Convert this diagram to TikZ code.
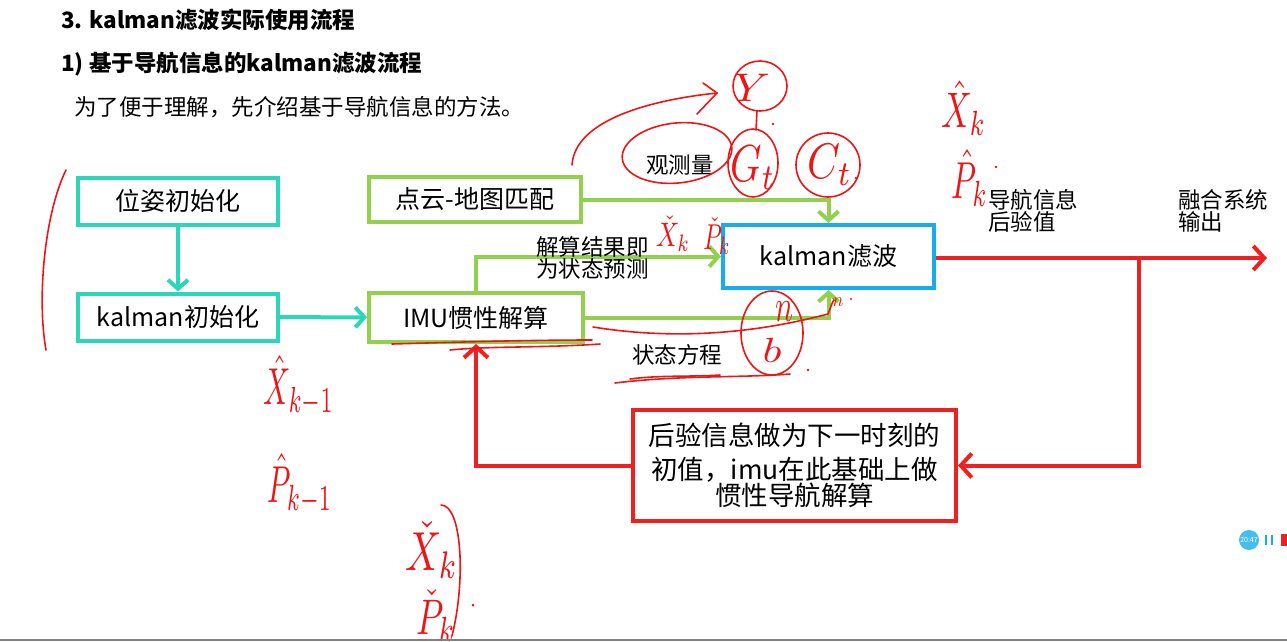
\documentclass[tikz,border=0pt]{standalone}
\usepackage{graphicx}
\usepackage{fontspec}
\setmainfont{Noto Sans CJK SC}
\usetikzlibrary{arrows.meta}
\definecolor{tealc}{RGB}{44,214,184}
\definecolor{greenc}{RGB}{146,208,80}
\definecolor{bluec}{RGB}{22,174,234}
\definecolor{redc}{RGB}{240,32,32}
\definecolor{inkred}{RGB}{236,22,22}
\newcommand{\fs}[1]{\fontsize{#1}{#1}\selectfont}
% handwritten symbols: math set at 10pt, stretched to the hand-drawn size
\newcommand{\inkm}[3]{\scalebox{#1}[#2]{$#3$}}
\begin{document}
\begin{tikzpicture}[x=1pt,y=-1pt,
  box/.style={draw, line width=4pt, fill=white, inner sep=0pt, align=center, font=\fs{25}},
  tealbox/.style={box, draw=tealc, minimum width=200pt, minimum height=47pt},
  greenbox/.style={box, draw=greenc},
  link/.style={line width=4pt, -{Straight Barb[length=9pt,width=20pt]}},
  redlink/.style={line width=4pt, draw=redc, -{Straight Barb[length=11pt,width=24pt]}},
  lbl/.style={font=\fs{22.5}, align=left, inner sep=0pt},
  ink/.style={draw=inkred, line width=1.6pt, line cap=round, line join=round},
  inktext/.style={text=inkred, inner sep=0pt}]
\useasboundingbox (0,0) rectangle (1287,641);
\fill[white] (0,0) rectangle (1287,641);

% headings
\node[anchor=west, font=\bfseries\fs{22.5}, inner sep=0pt] (t1) at (61,20) {3. kalman滤波实际使用流程};
\node[anchor=west, font=\bfseries\fs{22.5}, inner sep=0pt] (t2) at (61,64) {1) 基于导航信息的kalman滤波流程};
\node[anchor=west, font=\fs{22.5}, inner sep=0pt] (t3) at (74,107) {为了便于理解，先介绍基于导航信息的方法。};

% boxes
\node[tealbox] (pose) at (178,201) {位姿初始化};
\node[tealbox] (kinit) at (178,317) {kalman初始化};
\node[greenbox, minimum width=212pt, minimum height=45pt] (match) at (475,199.5) {点云-地图匹配};
\node[greenbox, minimum width=214pt, minimum height=49pt] (imu) at (476,317.5) {IMU惯性解算};
\node[box, draw=bluec, minimum width=211pt, minimum height=63pt] (kf) at (828.5,256.5) {kalman滤波};
\node[box, draw=redc, minimum width=323pt, minimum height=111pt, font=\fs{26.5}, text width=315pt, align=center] (post) at (794.5,465.5)
  {\baselineskip=34pt 后验信息做为下一时刻的\\初值，imu在此基础上做\\惯性导航解算};

% connectors
\draw[link, draw=tealc] (pose) -- (kinit);
\draw[link, draw=tealc] (kinit) -- (imu);
\draw[link, draw=greenc] (match.east) -| (kf.north);
\draw[link, draw=greenc] (imu.north) |- (kf.west);
\draw[link, draw=greenc] (imu.east) -| (kf.south);
\coordinate (out) at (1267,258);
\coordinate (split) at (1139,258);
\draw[redlink] (kf.east |- out) -- (out);
\draw[redlink] (split) |- (post.east);
\draw[redlink] (post.west) -| (imu.south);

% labels
\node[lbl, anchor=west] (obs) at (646,165) {观测量};
\node[lbl, anchor=west] (pred) at (536,258) {\baselineskip=27pt 解算结果即\\为状态预测};
\node[lbl, anchor=west] (steq) at (632,355) {状态方程};
\node[lbl, anchor=west] (postv) at (988,211) {\baselineskip=28pt 导航信息\\后验值};
\node[lbl, anchor=west] (fused) at (1178,211) {\baselineskip=28pt 融合系统\\输出};

% handwritten notes: left bracket and the previous-step estimate
\draw[ink] (66,170) .. controls (44,215) and (37,300) .. (46,350);
\node[inktext] (xk1) at (299,386) {\inkm{3}{5.2}{\hat{X}_{k-1}}};
\node[inktext] (pk1) at (300,484) {\inkm{3}{5.2}{\hat{P}_{k-1}}};

% predicted state, bottom
\node[inktext] (xkc) at (432,550) {\inkm{4}{5.5}{\check{X}_{k}}};
\node[inktext] (pkc) at (436,616) {\inkm{3.5}{5}{\check{P}_{k}}};
\draw[ink] (441,505) .. controls (462,505) and (466,580) .. (452,636);
\fill[inkred] (473,605) circle (1.5pt);

% predicted state next to the filter
\node[inktext] (xkp) at (673,234) {\inkm{2.6}{3.4}{\check{X}_{k}}};
\node[inktext] (pkp) at (717,236) {\inkm{2.4}{3.6}{\check{P}_{k}}};

% posterior estimate, top right
\node[inktext] (xkh) at (964,108) {\inkm{3.4}{5}{\hat{X}_{k}}};
\node[inktext] (pkh) at (970,178) {\inkm{3.2}{5.2}{\hat{P}_{k}}};
\fill[inkred] (996,167) circle (1.3pt);

% measurement model sketch
\draw[ink] (572,165) .. controls (575,120) and (650,100) .. (717,93);
\draw[ink] (703,83) -- (717,93) -- (697,114);
\draw[ink, rotate around={6:(677,153)}] (677,153) ellipse [x radius=55pt, y radius=30pt];

\draw[ink] (760,86) ellipse [x radius=27pt, y radius=25pt];
\node[inktext] (ymeas) at (752,88) {\inkm{4.5}{4}{Y}};
\draw[ink] (757,111) -- (756,130);
\fill[inkred] (773,124) circle (1.4pt);
\draw[ink] (753,163) ellipse [x radius=25pt, y radius=34pt];
\node[inktext] (gt) at (753,168) {\inkm{4}{5.2}{G_t}};
\draw[ink] (828,165) ellipse [x radius=32pt, y radius=32pt];
\node[inktext] (ct) at (830,165) {\inkm{4.2}{5}{C_t}};
\fill[inkred] (856,178) circle (1.3pt);

% noise terms of the state equation
\draw[ink] (772,333) ellipse [x radius=31pt, y radius=42pt];
\node[inktext] (nn) at (784,312) {\inkm{3}{4.6}{n}};
\node[inktext] (bb) at (772,350) {\inkm{4.4}{3.5}{b}};
\fill[inkred] (808,370) circle (1.3pt);
\draw[ink] (593,327) .. controls (680,341) and (760,332) .. (828,314)
          .. controls (831,307) and (832,302) .. (834,300);
\node[inktext] (nsmall) at (838,302) {\inkm{1.8}{2}{n}};
\fill[inkred] (851,299) circle (1.2pt);

% underlines
\draw[ink] (392,344) .. controls (460,342) and (530,340) .. (592,340);
\draw[ink] (450,350) .. controls (490,346) and (540,348) .. (600,344);
\draw[ink] (615,383) .. controls (680,375) and (740,378) .. (790,374);
\draw[ink] (630,379) .. controls (660,375) and (690,377) .. (720,375);

% player widget
\fill[bluec!80] (1249,540) circle (10pt);
\node[text=white, font=\fs{7}, inner sep=0pt] (clock) at (1249,540) {20:47};
\draw[bluec, line width=1.5pt] (1266,535) -- (1266,545);
\draw[bluec, line width=1.5pt] (1272,535) -- (1272,545);
\fill[redc] (1281,534) rectangle (1287,546);

% bottom rule
\draw[gray, line width=2pt] (0,640) -- (1287,640);
\end{tikzpicture}
\end{document}
